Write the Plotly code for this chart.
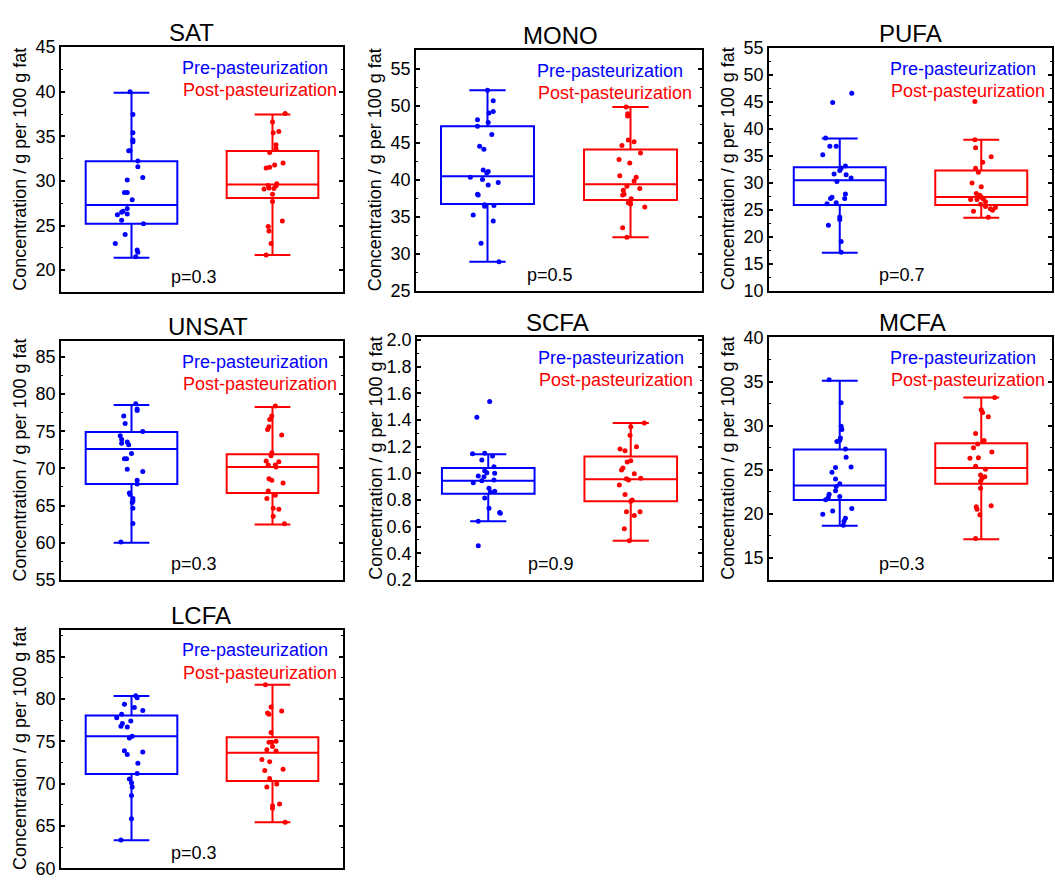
import plotly.graph_objects as go

W, H = 1055, 888
BLUE = "#0000FF"
RED = "#FF0000"
FONT = "Arial, Liberation Sans, sans-serif"

# ---------------- data ----------------
panel_names = ["SAT", "MONO", "PUFA", "UNSAT", "SCFA", "MCFA", "LCFA"]
p_values = ["p=0.3", "p=0.5", "p=0.7", "p=0.3", "p=0.9", "p=0.3", "p=0.3"]
legend_labels = ["Pre-pasteurization", "Post-pasteurization"]
y_title = "Concentration / g per 100 g fat"

# box stats: [lower whisker, q1, median, q3, upper whisker]
sat_pre_box = [21.4, 25.2, 27.3, 32.2, 39.9]
sat_post_box = [21.7, 28.1, 29.6, 33.35, 37.45]
mono_pre_box = [28.9, 36.7, 40.45, 47.2, 52.06]
mono_post_box = [32.2, 37.25, 39.35, 44.05, 49.8]
pufa_pre_box = [17.0, 25.9, 30.45, 32.9, 38.2]
pufa_post_box = [23.5, 25.9, 27.35, 32.3, 38.0]
unsat_pre_box = [60.0, 67.9, 72.6, 74.9, 78.55]
unsat_post_box = [62.45, 66.7, 70.2, 71.9, 78.25]
scfa_pre_box = [0.64, 0.846, 0.944, 1.04, 1.144]
scfa_post_box = [0.493, 0.79, 0.956, 1.127, 1.378]
mcfa_pre_box = [18.65, 21.55, 23.2, 27.3, 35.1]
mcfa_post_box = [17.1, 23.4, 25.2, 28.0, 33.2]
lcfa_pre_box = [63.3, 71.15, 75.6, 78.05, 80.35]
lcfa_post_box = [65.45, 70.3, 73.65, 75.5, 81.7]

# individual samples and their horizontal jitter
sat_pre = [40.0, 37.45, 35.4, 34.6, 34.4, 33.4, 33.4, 32.25, 31.6, 30.4, 30.1, 28.7, 28.7,
           27.9, 26.9, 26.6, 26.5, 26.2, 26.3, 25.6, 25.2, 24.0, 23.0, 22.25, 22.0, 21.5]
sat_pre_dx = [-0.01, 0.01, 0.01, 0.01, 0.01, -0.02, -0.01, 0.045, 0.045, 0.08, -0.03, -0.05, -0.03,
              0.005, -0.03, -0.06, -0.07, -0.10, -0.03, -0.07, 0.085, -0.045, -0.115, 0.04, 0.045, 0.03]
sat_post = [37.55, 36.6, 35.4, 35.55, 34.05, 33.6, 33.2, 32.0, 31.8, 31.55, 31.45, 29.7, 29.45,
            29.5, 29.2, 29.1, 29.15, 28.5, 27.7, 25.5, 24.9, 24.4, 23.0, 21.7]
sat_post_dx = [0.09, 0.0, 0.005, 0.045, 0.025, 0.025, -0.02, 0.075, 0.015, -0.02, -0.045, 0.03, 0.025,
               -0.03, -0.025, -0.06, 0.01, 0.0, 0.0, 0.07, -0.03, -0.025, -0.01, -0.045]

mono_pre = [52.06, 50.66, 49.2, 49.0, 48.1, 47.7, 47.2, 46.1, 44.5, 44.1, 41.3, 41.1, 40.9,
            40.3, 40.0, 39.6, 39.25, 38.0, 37.9, 36.6, 36.4, 36.5, 35.2, 34.4, 31.4, 28.9]
mono_pre_dx = [0.0, 0.04, 0.04, 0.01, -0.07, 0.005, -0.07, 0.03, -0.055, -0.025, -0.03, 0.005, -0.005,
               -0.12, -0.035, 0.075, 0.005, -0.07, -0.065, -0.02, -0.02, 0.045, -0.10, 0.04, -0.045, 0.08]
mono_post = [49.8, 48.9, 48.6, 45.35, 45.1, 44.6, 43.6, 42.7, 42.25, 40.5, 40.3, 39.8, 39.1,
             38.8, 38.55, 38.0, 37.9, 37.4, 37.15, 36.85, 36.7, 36.3, 33.5, 32.2]
mono_post_dx = [-0.03, -0.02, -0.02, -0.015, 0.025, -0.06, 0.07, -0.08, -0.005, -0.075, 0.04, 0.025, -0.025,
                0.065, -0.05, -0.045, -0.055, 0.005, 0.0, -0.015, 0.0, 0.1, -0.055, -0.025]

pufa_pre = [46.6, 44.9, 38.3, 36.8, 36.8, 35.2, 33.1, 32.75, 32.3, 31.65, 31.5, 30.9, 30.25,
            27.3, 27.1, 27.9, 27.1, 26.1, 26.3, 23.65, 23.2, 22.1, 19.1, 17.1]
pufa_pre_dx = [0.085, -0.05, -0.10, -0.07, -0.025, -0.12, 0.04, 0.01, 0.0, -0.04, 0.045, 0.08, -0.02,
               -0.055, -0.065, 0.04, 0.035, -0.09, -0.025, 0.0, 0.0, -0.08, 0.01, 0.01]
pufa_post = [45.1, 38.0, 36.5, 34.85, 33.8, 32.7, 31.95, 29.95, 29.25, 28.0, 27.7, 27.3, 27.0,
             26.9, 26.9, 26.5, 26.0, 25.6, 25.4, 25.2, 24.9, 24.7, 23.6]
pufa_post_dx = [-0.045, -0.045, -0.04, 0.07, 0.01, -0.04, -0.02, -0.065, 0.0, -0.035, -0.01, 0.0, 0.015,
                -0.075, -0.03, 0.03, -0.005, 0.03, 0.1, 0.065, 0.08, -0.055, 0.05]

unsat_pre = [78.7, 78.0, 77.8, 77.05, 76.05, 74.96, 74.4, 73.9, 73.55, 73.4, 73.2, 72.0, 71.3,
             71.3, 69.9, 69.6, 68.4, 67.9, 66.7, 66.5, 65.95, 65.6, 65.4, 64.65, 62.6, 60.1]
unsat_pre_dx = [0.03, 0.04, 0.04, -0.055, -0.045, 0.08, -0.08, -0.07, -0.03, -0.07, -0.02, 0.0, -0.05,
                -0.035, -0.03, 0.08, 0.04, 0.04, -0.015, -0.01, 0.01, 0.01, 0.005, 0.01, 0.01, -0.075]
unsat_post = [78.4, 77.05, 76.6, 75.6, 75.25, 74.5, 72.1, 71.7, 71.0, 70.9, 70.45, 70.2, 70.45,
              68.6, 68.4, 68.05, 66.95, 66.4, 65.95, 64.65, 64.5, 63.55, 62.55]
unsat_post_dx = [0.02, -0.005, -0.02, -0.025, -0.035, 0.065, -0.005, -0.01, -0.045, 0.045, 0.02, 0.025, -0.03,
                 -0.025, -0.005, 0.075, -0.03, 0.02, -0.04, 0.005, 0.045, 0.005, 0.085]

scfa_pre = [1.54, 1.42, 1.146, 1.15, 1.13, 1.10, 1.05, 1.02, 1.005, 1.0, 0.98, 0.975, 0.95,
            0.944, 0.93, 0.888, 0.866, 0.859, 0.815, 0.737, 0.705, 0.70, 0.64, 0.456]
scfa_pre_dx = [0.01, -0.08, -0.11, -0.025, 0.03, -0.045, 0.04, -0.025, -0.01, 0.045, -0.07, -0.03, 0.04,
               -0.045, -0.105, 0.005, 0.045, 0.015, -0.025, 0.005, 0.08, 0.085, -0.07, -0.07]
scfa_post = [1.378, 1.35, 1.285, 1.2, 1.183, 1.17, 1.095, 1.085, 1.04, 1.024, 0.997, 0.96, 0.95,
             0.963, 0.912, 0.84, 0.8, 0.79, 0.712, 0.712, 0.683, 0.583, 0.493]
scfa_post_dx = [0.095, 0.0, -0.005, 0.04, -0.075, -0.04, 0.0, -0.025, -0.055, -0.065, 0.025, -0.03, -0.015,
                0.07, -0.08, -0.04, 0.01, 0.0, 0.065, -0.03, 0.025, -0.045, -0.01]

mcfa_pre = [35.2, 32.6, 29.94, 29.57, 28.2, 28.35, 28.6, 27.35, 26.4, 25.25, 25.3, 24.7, 23.95,
            23.4, 23.1, 22.6, 22.2, 21.9, 21.95, 21.6, 20.6, 20.3, 19.95, 19.5, 19.15, 18.7]
mcfa_pre_dx = [-0.075, 0.01, 0.01, 0.015, -0.02, 0.0, 0.005, 0.04, 0.045, -0.03, 0.08, -0.055, -0.03,
               0.0, -0.025, -0.03, -0.075, -0.08, 0.0, -0.1, 0.085, -0.05, -0.12, 0.04, 0.03, 0.025]
mcfa_post = [33.2, 31.8, 31.5, 31.0, 29.1, 28.3, 27.9, 27.5, 27.0, 26.35, 26.3, 25.4, 25.05,
             24.4, 24.2, 24.0, 23.7, 22.9, 20.9, 20.8, 20.5, 19.9, 17.2]
mcfa_post_dx = [0.095, 0.0, 0.01, 0.05, -0.04, 0.02, -0.025, -0.055, 0.075, -0.02, -0.08, -0.04, 0.03,
                -0.005, 0.025, 0.005, -0.005, -0.005, 0.07, -0.035, -0.03, -0.01, -0.04]

lcfa_pre = [80.4, 80.15, 79.4, 79.0, 78.65, 78.2, 77.8, 77.4, 77.1, 76.8, 76.7, 75.6, 75.4,
            73.9, 73.45, 73.75, 72.4, 71.2, 70.55, 70.1, 69.6, 68.6, 65.85, 63.35]
lcfa_pre_dx = [0.03, 0.04, -0.05, 0.02, 0.08, -0.07, -0.105, -0.005, -0.065, -0.075, -0.03, 0.005, -0.015,
               -0.05, -0.03, 0.08, 0.045, 0.04, -0.015, 0.0, 0.005, 0.0, 0.0, -0.075]
lcfa_post = [81.7, 79.05, 78.35, 78.2, 78.6, 76.05, 75.0, 74.9, 74.9, 74.0, 74.4, 73.85, 72.85,
             72.6, 71.55, 71.7, 70.6, 69.95, 69.6, 67.6, 67.4, 67.1, 65.45]
lcfa_post_dx = [-0.05, -0.01, -0.035, -0.025, 0.065, -0.01, 0.025, -0.005, -0.025, -0.04, 0.0, 0.025, -0.075,
                -0.02, -0.055, 0.075, -0.02, 0.03, -0.04, 0.05, 0.0, 0.0, 0.09]

# y-axis settings per panel: (min, max) and major step
y_axis_ranges = [(17.5, 45), (25, 57.5), (10, 55), (55, 87.1), (0.2, 2.02), (12.5, 40), (60, 88.2)]
y_dticks = [5, 5, 5, 5, 0.2, 5, 5]

pre_sets = [(sat_pre, sat_pre_dx, sat_pre_box), (mono_pre, mono_pre_dx, mono_pre_box),
            (pufa_pre, pufa_pre_dx, pufa_pre_box), (unsat_pre, unsat_pre_dx, unsat_pre_box),
            (scfa_pre, scfa_pre_dx, scfa_pre_box), (mcfa_pre, mcfa_pre_dx, mcfa_pre_box),
            (lcfa_pre, lcfa_pre_dx, lcfa_pre_box)]
post_sets = [(sat_post, sat_post_dx, sat_post_box), (mono_post, mono_post_dx, mono_post_box),
             (pufa_post, pufa_post_dx, pufa_post_box), (unsat_post, unsat_post_dx, unsat_post_box),
             (scfa_post, scfa_post_dx, scfa_post_box), (mcfa_post, mcfa_post_dx, mcfa_post_box),
             (lcfa_post, lcfa_post_dx, lcfa_post_box)]

# ---------------- layout geometry (pixels) ----------------
frames = [(61, 38, 343, 289), (416, 41, 702, 287), (769, 39, 1052, 287),
          (61, 339, 343, 583), (417, 335, 702, 583), (769, 335, 1052, 583),
          (61, 634, 343, 878)]
title_dx = [-11, 1, 0, 6, -2, 2, -1]


def px(x):
    return x / W


def py(y):
    return 1 - y / H


fig = go.Figure()
annotations = []
layout_axes = {}

for i, name in enumerate(panel_names):
    n = "" if i == 0 else str(i + 1)
    xa, ya = "x" + n, "y" + n
    x0, y0, x1, y1 = frames[i]
    for pos, color, (vals, dxs, box) in ((0.5, BLUE, pre_sets[i]), (1.5, RED, post_sets[i])):
        fig.add_trace(go.Box(
            x=[pos], lowerfence=[box[0]], q1=[box[1]], median=[box[2]], q3=[box[3]],
            upperfence=[box[4]], width=0.65, whiskerwidth=0.39,
            line=dict(color=color, width=2), fillcolor="rgba(0,0,0,0)",
            boxpoints=False, showlegend=False, hoverinfo="skip",
            xaxis=xa, yaxis=ya))
        fig.add_trace(go.Scatter(
            x=[pos + d for d in dxs], y=vals, mode="markers",
            marker=dict(color=color, size=5, line=dict(width=0)),
            showlegend=False, xaxis=xa, yaxis=ya))

    lo, hi = y_axis_ranges[i]
    dt = y_dticks[i]
    layout_axes["xaxis" + n] = dict(
        domain=[px(x0), px(x1)], range=[0, 2], anchor=ya,
        showline=True, mirror=True, linecolor="black", linewidth=1.5,
        showticklabels=False, ticks="", showgrid=False, zeroline=False)
    layout_axes["yaxis" + n] = dict(
        domain=[py(y1), py(y0)], range=[lo, hi], anchor=xa,
        tick0=0, dtick=dt, tickformat=".1f" if dt < 1 else "d",
        ticks="inside", ticklen=4, tickwidth=1.5, tickcolor="black",
        showline=True, mirror="ticks", linecolor="black", linewidth=1.5,
        showgrid=False, zeroline=False,
        tickfont=dict(family=FONT, size=18, color="black"),
        minor=dict(ticks="inside", ticklen=2.5, tickwidth=1.2, tickcolor="black",
                   dtick=dt / 2, tick0=0, showgrid=False))

    # panel title
    annotations.append(dict(text=name, x=px((x0 + x1) / 2 + title_dx[i]), y=py(y0 - 15),
                            xref="paper", yref="paper", showarrow=False,
                            xanchor="center", yanchor="middle",
                            font=dict(family=FONT, size=24, color="black")))
    # legend text
    annotations.append(dict(text=legend_labels[0], x=px(x0 + 119), y=py(y0 + 21),
                            xref="paper", yref="paper", showarrow=False,
                            xanchor="left", yanchor="middle",
                            font=dict(family=FONT, size=18, color=BLUE)))
    annotations.append(dict(text=legend_labels[1], x=px(x0 + 120), y=py(y0 + 44),
                            xref="paper", yref="paper", showarrow=False,
                            xanchor="left", yanchor="middle",
                            font=dict(family=FONT, size=18, color=RED)))
    # p-value
    annotations.append(dict(text=p_values[i], x=px(x0 + 0.47 * (x1 - x0)), y=py(y1 - 16),
                            xref="paper", yref="paper", showarrow=False,
                            xanchor="center", yanchor="middle",
                            font=dict(family=FONT, size=18, color="black")))
    # y-axis title
    annotations.append(dict(text=y_title, x=px(x0 - 41), y=py((y0 + y1) / 2),
                            xref="paper", yref="paper", showarrow=False, textangle=-90,
                            xanchor="center", yanchor="middle",
                            font=dict(family=FONT, size=18, color="black")))

fig.update_layout(
    width=W, height=H, margin=dict(l=0, r=0, t=0, b=0),
    paper_bgcolor="white", plot_bgcolor="white",
    annotations=annotations, showlegend=False, **layout_axes)

fig.write_html("out.html")
